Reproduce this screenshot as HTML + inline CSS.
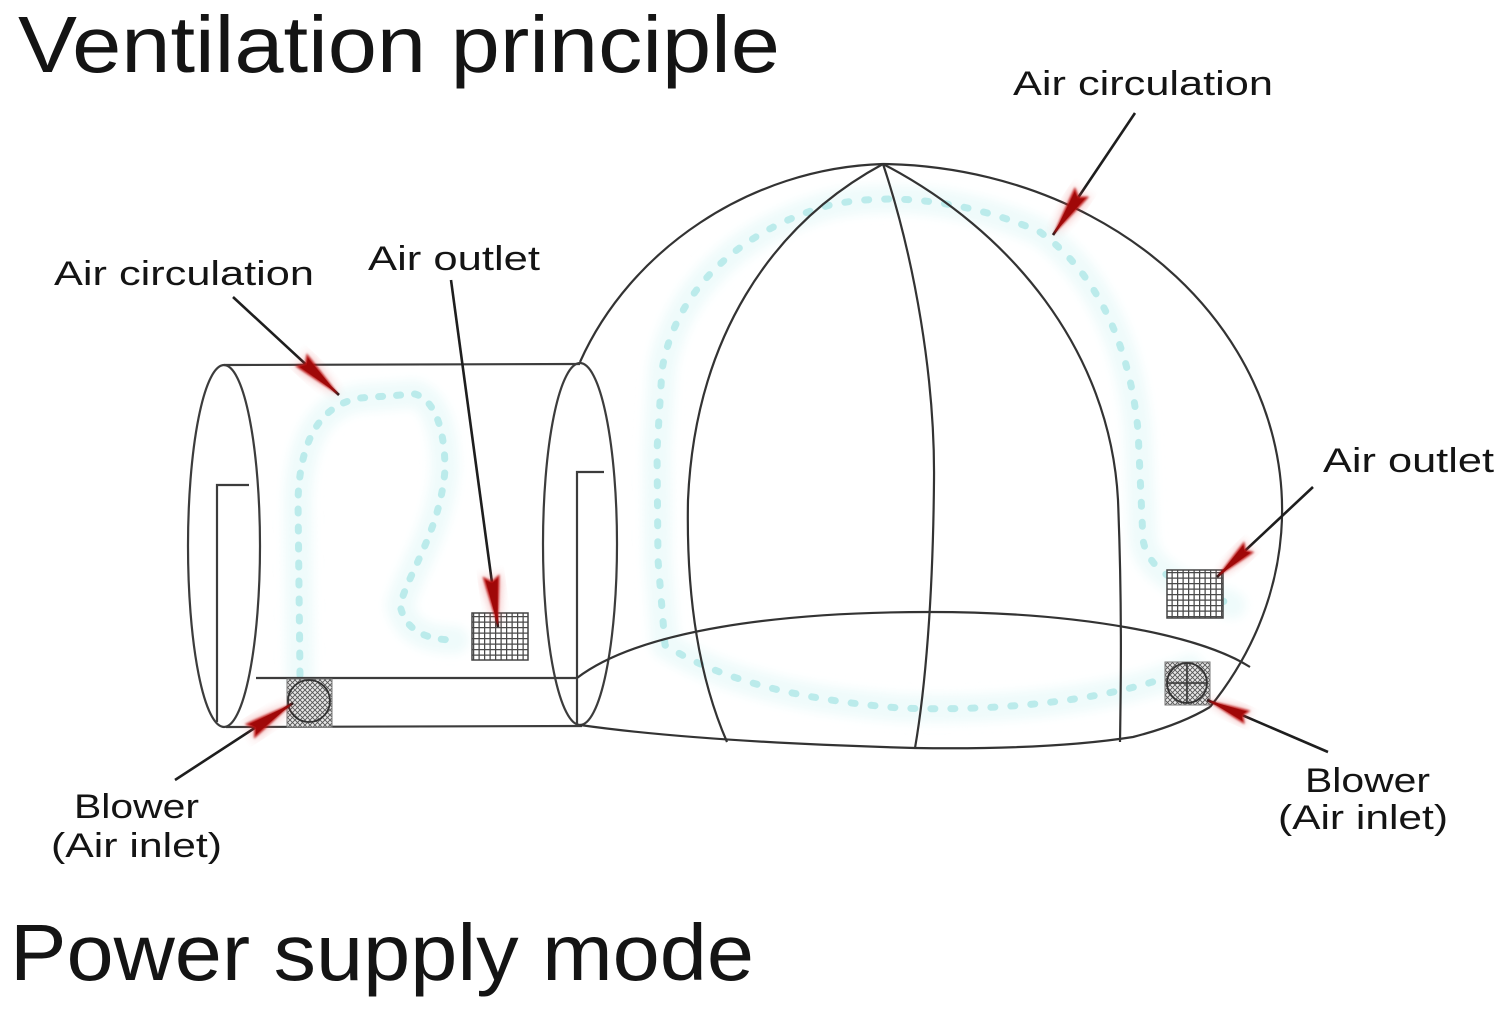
<!DOCTYPE html>
<html>
<head>
<meta charset="utf-8">
<style>
html,body{margin:0;padding:0;background:#fff;}
svg{display:block;}
text{font-family:"Liberation Sans", Arial, sans-serif;fill:#141414;}
</style>
</head>
<body>
<svg width="1500" height="1011" viewBox="0 0 1500 1011" xmlns="http://www.w3.org/2000/svg">
<defs>
  <pattern id="grid" width="5.5" height="5.5" patternUnits="userSpaceOnUse">
    <rect width="5.5" height="5.5" fill="#fff"/>
    <path d="M0 0.6 H5.5 M0.6 0 V5.5" stroke="#4a4a4a" stroke-width="1.3"/>
  </pattern>
  <pattern id="mesh" width="5" height="5" patternUnits="userSpaceOnUse">
    <rect width="5" height="5" fill="#e8e8e8"/>
    <path d="M0 0 L5 5 M5 0 L0 5" stroke="#555" stroke-width="0.9"/>
  </pattern>
  <filter id="soft" x="-50%" y="-50%" width="200%" height="200%">
    <feGaussianBlur stdDeviation="1.1"/>
  </filter>
  <filter id="glow" x="-20%" y="-20%" width="140%" height="140%">
    <feGaussianBlur stdDeviation="5"/>
  </filter>
  <g id="head">
    <polygon points="0,0 -54,-10 -46,0 -54,10" fill="#e04a4a" opacity="0.45" filter="url(#glow)"/>
    <polygon points="0,0 -52,-8.5 -46,0 -52,8.5" fill="#b80f0f" filter="url(#soft)"/>
    <polygon points="-2,0 -48,-6 -44,0 -48,6" fill="#a00808"/>
  </g>
</defs>

<rect width="1500" height="1011" fill="#fff"/>

<!-- Titles -->
<text x="18" y="72" font-size="80" textLength="762" lengthAdjust="spacingAndGlyphs">Ventilation principle</text>
<text x="10" y="980" font-size="80" textLength="744" lengthAdjust="spacingAndGlyphs">Power supply mode</text>

<!-- Cyan air flow (halo + dashed) -->
<g fill="none" stroke-linecap="round" stroke-linejoin="round">
  <path d="M300 675 L298 500 C 300 440, 320 405, 360 398 L 415 394 C 435 400, 445 430, 445 470 C 440 530, 410 570, 400 605 C 405 630, 425 640, 455 640" stroke="#effbfb" stroke-width="28" filter="url(#glow)"/>
  <path d="M300 675 L298 500 C 300 440, 320 405, 360 398 L 415 394 C 435 400, 445 430, 445 470 C 440 530, 410 570, 400 605 C 405 630, 425 640, 455 640" stroke="#a9e5e5" stroke-width="7" stroke-dasharray="4 14" opacity="0.75"/>
  <path d="M1190 668 C 1120 700, 1000 712, 900 708 C 800 700, 720 680, 665 645 L 658 560 L 657 450 L 662 370 C 675 290, 740 230, 830 205 C 900 190, 980 205, 1040 232 C 1100 275, 1130 350, 1138 430 L 1143 540 C 1150 580, 1200 590, 1232 605" stroke="#effbfb" stroke-width="28" filter="url(#glow)"/>
  <path d="M1190 668 C 1120 700, 1000 712, 900 708 C 800 700, 720 680, 665 645 L 658 560 L 657 450 L 662 370 C 675 290, 740 230, 830 205 C 900 190, 980 205, 1040 232 C 1100 275, 1130 350, 1138 430 L 1143 540 C 1150 580, 1200 590, 1232 605" stroke="#a9e5e5" stroke-width="7" stroke-dasharray="4 16" opacity="0.75"/>
</g>

<!-- Tunnel -->
<g fill="none" stroke="#3c3c3c" stroke-width="2.2">
  <ellipse cx="224" cy="546" rx="36" ry="181"/>
  <path d="M224 365 L580 364"/>
  <path d="M256 678 L577 678"/>
  <path d="M226 727 L582 726"/>
  <path d="M249 485 L217 485 L217 722"/>
  <ellipse cx="580" cy="544" rx="37" ry="181"/>
  <path d="M604 472 L577 472 L577 725"/>
</g>

<!-- Dome -->
<g fill="none" stroke="#333" stroke-width="2.2">
  <path d="M580 362 C 630 250, 750 168, 883 164"/>
  <path d="M883 164 A 405 346 0 0 1 1210 707"/>
  <path d="M580 725 Q 700 742 915 748 Q 1050 750 1133 737 Q 1180 725 1210 707"/>
  <path d="M577 678 C 640 630, 780 612, 930 612 C 1080 612, 1200 635, 1250 667"/>
  <path d="M883 164 C 770 225, 695 340, 688 500 C 686 600, 700 680, 727 742"/>
  <path d="M883 164 C 915 260, 935 380, 934 480 C 933 600, 925 690, 915 748"/>
  <path d="M883 164 C 1010 230, 1110 350, 1118 500 C 1122 600, 1121 680, 1120 742"/>
</g>

<!-- Outlets -->
<rect x="472" y="613" width="56" height="47" fill="url(#grid)" stroke="#444" stroke-width="1.5"/>
<rect x="1167" y="570" width="56" height="48" fill="url(#grid)" stroke="#444" stroke-width="1.5"/>

<!-- Blowers -->
<rect x="287" y="679" width="45" height="48" fill="url(#mesh)" stroke="#777" stroke-width="1"/>
<circle cx="309" cy="701" r="21" fill="none" stroke="#333" stroke-width="1.8"/>
<rect x="1165" y="662" width="45" height="43" fill="url(#mesh)" stroke="#777" stroke-width="1"/>
<circle cx="1187" cy="683" r="20" fill="none" stroke="#333" stroke-width="1.8"/>
<path d="M1187 663 V703 M1167 683 H1207" stroke="#333" stroke-width="1.6"/>

<!-- Arrow lines -->
<g stroke="#1e1e1e" stroke-width="2.6" fill="none">
  <path d="M233 297 L339 395"/>
  <path d="M451 280 L498 627"/>
  <path d="M175 780 L293 703"/>
  <path d="M1135 113 L1053 235"/>
  <path d="M1313 487 L1217 577"/>
  <path d="M1328 752 L1207 700"/>
</g>

<!-- Arrow heads -->
<use href="#head" transform="translate(339,395) rotate(42.8)"/>
<use href="#head" transform="translate(498,627) rotate(82.3)"/>
<use href="#head" transform="translate(293,703) rotate(-33.1)"/>
<use href="#head" transform="translate(1053,235) rotate(123.9)"/>
<use href="#head" transform="translate(1217,577) rotate(136.8) scale(0.85)"/>
<use href="#head" transform="translate(1207,700) rotate(203.3) scale(0.85)"/>

<!-- Labels -->
<g font-size="34">
  <text x="1013" y="95" textLength="260" lengthAdjust="spacingAndGlyphs">Air circulation</text>
  <text x="54" y="285" textLength="260" lengthAdjust="spacingAndGlyphs">Air circulation</text>
  <text x="368" y="270" textLength="172" lengthAdjust="spacingAndGlyphs">Air outlet</text>
  <text x="1323" y="472" textLength="171" lengthAdjust="spacingAndGlyphs">Air outlet</text>
  <text x="74" y="818" textLength="125" lengthAdjust="spacingAndGlyphs">Blower</text>
  <text x="51" y="857" textLength="171" lengthAdjust="spacingAndGlyphs">(Air inlet)</text>
  <text x="1305" y="792" textLength="125" lengthAdjust="spacingAndGlyphs">Blower</text>
  <text x="1278" y="829" textLength="170" lengthAdjust="spacingAndGlyphs">(Air inlet)</text>
</g>
</svg>
</body>
</html>
